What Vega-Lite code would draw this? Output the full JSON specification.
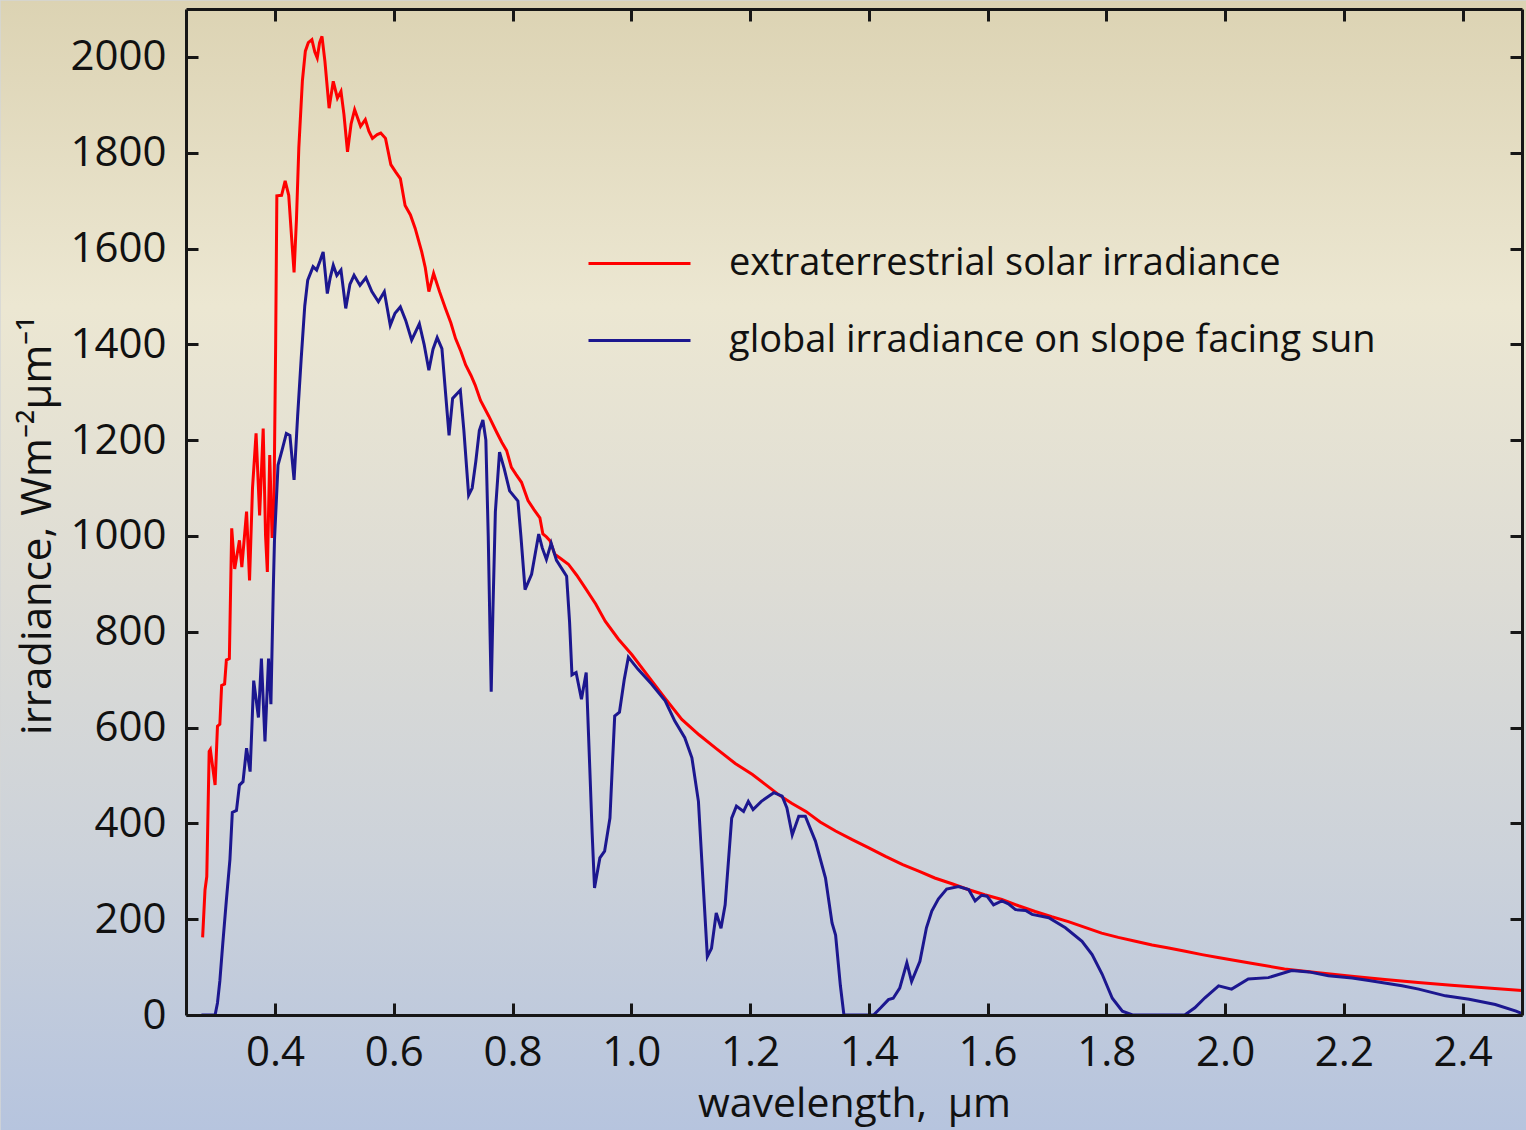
{
  "$schema": "https://vega.github.io/schema/vega-lite/v6.json",
  "width": 1336,
  "height": 1006,
  "padding": 0,
  "autosize": {"type": "pad"},
  "background": "#d4d6d6",
  "config": {
    "view": {"stroke": null},
    "font": "Open Sans",
    "axis": {
      "grid": false,
      "domainColor": "#161616",
      "domainWidth": 3,
      "tickColor": "#161616",
      "tickWidth": 3,
      "tickSize": -12,
      "labelFont": "Open Sans",
      "labelFontSize": 42,
      "labelColor": "#111111",
      "labelPadding": 30,
      "titleFont": "Open Sans",
      "titleFontSize": 42,
      "titleFontWeight": "normal",
      "titleColor": "#111111"
    }
  },
  "resolve": {"axis": {"x": "independent", "y": "independent"}},
  "layer": [
    {
      "data": {"values": [{}]},
      "mark": {
        "type": "rect",
        "clip": false,
        "fill": {
          "gradient": "linear",
          "x1": 0, "y1": 0, "x2": 0, "y2": 1,
          "stops": [
            {"offset": 0, "color": "#dcd3b3"},
            {"offset": 0.27, "color": "#ece7d2"},
            {"offset": 0.52, "color": "#dddcd5"},
            {"offset": 0.76, "color": "#ccd2da"},
            {"offset": 1, "color": "#b6c4de"}
          ]
        }
      },
      "encoding": {
        "x": {"datum": -0.062, "type": "quantitative", "scale": {"domain": [0.25, 2.5], "nice": false, "zero": false}, "axis": null},
        "x2": {"datum": 2.51},
        "y": {"datum": 2117, "type": "quantitative", "scale": {"domain": [0, 2100], "nice": false}, "axis": null},
        "y2": {"datum": -243}
      }
    },
    {
      "data": {"values": [
        {"series":"E","wl":0.278,"irr":162},{"series":"E","wl":0.282,"irr":261},{"series":"E","wl":0.285,"irr":289},{"series":"E","wl":0.289,"irr":550},{"series":"E","wl":0.291,"irr":554},{"series":"E","wl":0.299,"irr":480},{"series":"E","wl":0.303,"irr":603},{"series":"E","wl":0.307,"irr":607},{"series":"E","wl":0.310,"irr":688},{"series":"E","wl":0.315,"irr":691},{"series":"E","wl":0.318,"irr":741},{"series":"E","wl":0.323,"irr":744},{"series":"E","wl":0.327,"irr":1016},{"series":"E","wl":0.332,"irr":931},{"series":"E","wl":0.340,"irr":991},{"series":"E","wl":0.344,"irr":935},{"series":"E","wl":0.352,"irr":1051},{"series":"E","wl":0.357,"irr":907},{"series":"E","wl":0.362,"irr":1100},{"series":"E","wl":0.368,"irr":1214},{"series":"E","wl":0.374,"irr":1043},{"series":"E","wl":0.380,"irr":1224},{"series":"E","wl":0.384,"irr":1000},{"series":"E","wl":0.387,"irr":925},{"series":"E","wl":0.391,"irr":1169},{"series":"E","wl":0.395,"irr":996},{"series":"E","wl":0.398,"irr":1050},{"series":"E","wl":0.401,"irr":1400},{"series":"E","wl":0.403,"irr":1710},{"series":"E","wl":0.411,"irr":1711},{"series":"E","wl":0.417,"irr":1741},{"series":"E","wl":0.423,"irr":1711},{"series":"E","wl":0.428,"irr":1620},{"series":"E","wl":0.432,"irr":1550},{"series":"E","wl":0.436,"irr":1660},{"series":"E","wl":0.440,"irr":1810},{"series":"E","wl":0.446,"irr":1950},{"series":"E","wl":0.451,"irr":2012},{"series":"E","wl":0.456,"irr":2030},{"series":"E","wl":0.462,"irr":2036},{"series":"E","wl":0.467,"irr":2010},{"series":"E","wl":0.471,"irr":1998},{"series":"E","wl":0.475,"irr":2030},{"series":"E","wl":0.479,"irr":2043},{"series":"E","wl":0.484,"irr":1990},{"series":"E","wl":0.491,"irr":1893},{"series":"E","wl":0.498,"irr":1949},{"series":"E","wl":0.505,"irr":1914},{"series":"E","wl":0.511,"irr":1928},{"series":"E","wl":0.516,"irr":1880},{"series":"E","wl":0.522,"irr":1802},{"series":"E","wl":0.528,"irr":1860},{"series":"E","wl":0.534,"irr":1890},{"series":"E","wl":0.544,"irr":1855},{"series":"E","wl":0.552,"irr":1869},{"series":"E","wl":0.558,"irr":1845},{"series":"E","wl":0.564,"irr":1830},{"series":"E","wl":0.572,"irr":1838},{"series":"E","wl":0.578,"irr":1841},{"series":"E","wl":0.586,"irr":1830},{"series":"E","wl":0.595,"irr":1775},{"series":"E","wl":0.603,"irr":1760},{"series":"E","wl":0.611,"irr":1746},{"series":"E","wl":0.619,"irr":1690},{"series":"E","wl":0.628,"irr":1670},{"series":"E","wl":0.636,"irr":1642},{"series":"E","wl":0.647,"irr":1593},{"series":"E","wl":0.653,"irr":1560},{"series":"E","wl":0.659,"irr":1510},{"series":"E","wl":0.667,"irr":1548},{"series":"E","wl":0.677,"irr":1510},{"series":"E","wl":0.687,"irr":1475},{"series":"E","wl":0.696,"irr":1445},{"series":"E","wl":0.704,"irr":1412},{"series":"E","wl":0.713,"irr":1385},{"series":"E","wl":0.721,"irr":1357},{"series":"E","wl":0.730,"irr":1335},{"series":"E","wl":0.737,"irr":1315},{"series":"E","wl":0.746,"irr":1283},{"series":"E","wl":0.760,"irr":1250},{"series":"E","wl":0.773,"irr":1217},{"series":"E","wl":0.782,"irr":1195},{"series":"E","wl":0.790,"irr":1178},{"series":"E","wl":0.798,"irr":1143},{"series":"E","wl":0.806,"irr":1128},{"series":"E","wl":0.815,"irr":1112},{"series":"E","wl":0.826,"irr":1074},{"series":"E","wl":0.836,"irr":1055},{"series":"E","wl":0.846,"irr":1038},{"series":"E","wl":0.851,"irr":1004},{"series":"E","wl":0.857,"irr":998},{"series":"E","wl":0.863,"irr":990},{"series":"E","wl":0.871,"irr":962},{"series":"E","wl":0.882,"irr":952},{"series":"E","wl":0.894,"irr":941},{"series":"E","wl":0.908,"irr":918},{"series":"E","wl":0.922,"irr":892},{"series":"E","wl":0.940,"irr":858},{"series":"E","wl":0.956,"irr":822},{"series":"E","wl":0.978,"irr":785},{"series":"E","wl":1.001,"irr":752},{"series":"E","wl":1.028,"irr":708},{"series":"E","wl":1.057,"irr":661},{"series":"E","wl":1.085,"irr":617},{"series":"E","wl":1.114,"irr":585},{"series":"E","wl":1.142,"irr":557},{"series":"E","wl":1.175,"irr":525},{"series":"E","wl":1.204,"irr":502},{"series":"E","wl":1.225,"irr":482},{"series":"E","wl":1.248,"irr":460},{"series":"E","wl":1.270,"irr":442},{"series":"E","wl":1.294,"irr":425},{"series":"E","wl":1.318,"irr":403},{"series":"E","wl":1.344,"irr":384},{"series":"E","wl":1.372,"irr":366},{"series":"E","wl":1.400,"irr":349},{"series":"E","wl":1.428,"irr":331},{"series":"E","wl":1.457,"irr":314},{"series":"E","wl":1.485,"irr":300},{"series":"E","wl":1.511,"irr":286},{"series":"E","wl":1.540,"irr":274},{"series":"E","wl":1.567,"irr":262},{"series":"E","wl":1.595,"irr":251},{"series":"E","wl":1.624,"irr":241},{"series":"E","wl":1.652,"irr":228},{"series":"E","wl":1.680,"irr":216},{"series":"E","wl":1.708,"irr":205},{"series":"E","wl":1.736,"irr":195},{"series":"E","wl":1.764,"irr":183},{"series":"E","wl":1.792,"irr":171},{"series":"E","wl":1.820,"irr":162},{"series":"E","wl":1.849,"irr":154},{"series":"E","wl":1.877,"irr":146},{"series":"E","wl":1.905,"irr":140},{"series":"E","wl":1.933,"irr":133},{"series":"E","wl":1.961,"irr":126},{"series":"E","wl":1.988,"irr":120},{"series":"E","wl":2.044,"irr":108},{"series":"E","wl":2.100,"irr":96},{"series":"E","wl":2.157,"irr":88},{"series":"E","wl":2.213,"irr":81},{"series":"E","wl":2.269,"irr":74},{"series":"E","wl":2.325,"irr":68},{"series":"E","wl":2.381,"irr":62},{"series":"E","wl":2.437,"irr":57},{"series":"E","wl":2.500,"irr":51},
        {"series":"G","wl":0.276,"irr":0},{"series":"G","wl":0.299,"irr":0},{"series":"G","wl":0.303,"irr":25},{"series":"G","wl":0.307,"irr":71},{"series":"G","wl":0.312,"irr":150},{"series":"G","wl":0.318,"irr":240},{"series":"G","wl":0.324,"irr":325},{"series":"G","wl":0.328,"irr":423},{"series":"G","wl":0.335,"irr":427},{"series":"G","wl":0.340,"irr":480},{"series":"G","wl":0.346,"irr":487},{"series":"G","wl":0.352,"irr":557},{"series":"G","wl":0.358,"irr":508},{"series":"G","wl":0.364,"irr":698},{"series":"G","wl":0.368,"irr":660},{"series":"G","wl":0.372,"irr":621},{"series":"G","wl":0.377,"irr":744},{"series":"G","wl":0.383,"irr":571},{"series":"G","wl":0.389,"irr":744},{"series":"G","wl":0.393,"irr":649},{"series":"G","wl":0.397,"irr":889},{"series":"G","wl":0.399,"irr":991},{"series":"G","wl":0.405,"irr":1148},{"series":"G","wl":0.412,"irr":1180},{"series":"G","wl":0.419,"irr":1214},{"series":"G","wl":0.425,"irr":1210},{"series":"G","wl":0.432,"irr":1117},{"series":"G","wl":0.438,"irr":1250},{"series":"G","wl":0.444,"irr":1370},{"series":"G","wl":0.450,"irr":1480},{"series":"G","wl":0.455,"irr":1534},{"series":"G","wl":0.464,"irr":1562},{"series":"G","wl":0.470,"irr":1555},{"series":"G","wl":0.476,"irr":1575},{"series":"G","wl":0.481,"irr":1593},{"series":"G","wl":0.488,"irr":1506},{"series":"G","wl":0.493,"irr":1540},{"series":"G","wl":0.498,"irr":1565},{"series":"G","wl":0.504,"irr":1544},{"series":"G","wl":0.511,"irr":1555},{"series":"G","wl":0.519,"irr":1475},{"series":"G","wl":0.526,"irr":1525},{"series":"G","wl":0.533,"irr":1544},{"series":"G","wl":0.543,"irr":1523},{"series":"G","wl":0.553,"irr":1539},{"series":"G","wl":0.563,"irr":1510},{"series":"G","wl":0.574,"irr":1489},{"series":"G","wl":0.584,"irr":1510},{"series":"G","wl":0.594,"irr":1440},{"series":"G","wl":0.602,"irr":1465},{"series":"G","wl":0.611,"irr":1478},{"series":"G","wl":0.620,"irr":1450},{"series":"G","wl":0.630,"irr":1409},{"series":"G","wl":0.643,"irr":1443},{"series":"G","wl":0.651,"irr":1400},{"series":"G","wl":0.659,"irr":1346},{"series":"G","wl":0.666,"irr":1390},{"series":"G","wl":0.673,"irr":1414},{"series":"G","wl":0.681,"irr":1391},{"series":"G","wl":0.687,"irr":1300},{"series":"G","wl":0.693,"irr":1210},{"series":"G","wl":0.699,"irr":1287},{"series":"G","wl":0.712,"irr":1304},{"series":"G","wl":0.718,"irr":1220},{"series":"G","wl":0.726,"irr":1085},{"series":"G","wl":0.732,"irr":1100},{"series":"G","wl":0.738,"irr":1155},{"series":"G","wl":0.744,"irr":1220},{"series":"G","wl":0.750,"irr":1242},{"series":"G","wl":0.755,"irr":1200},{"series":"G","wl":0.759,"irr":1000},{"series":"G","wl":0.762,"irr":800},{"series":"G","wl":0.764,"irr":675},{"series":"G","wl":0.767,"irr":850},{"series":"G","wl":0.771,"irr":1050},{"series":"G","wl":0.778,"irr":1175},{"series":"G","wl":0.786,"irr":1140},{"series":"G","wl":0.795,"irr":1094},{"series":"G","wl":0.809,"irr":1073},{"series":"G","wl":0.814,"irr":1000},{"series":"G","wl":0.821,"irr":888},{"series":"G","wl":0.832,"irr":920},{"series":"G","wl":0.844,"irr":1004},{"series":"G","wl":0.850,"irr":975},{"series":"G","wl":0.857,"irr":951},{"series":"G","wl":0.865,"irr":985},{"series":"G","wl":0.874,"irr":949},{"series":"G","wl":0.891,"irr":916},{"series":"G","wl":0.896,"irr":820},{"series":"G","wl":0.900,"irr":710},{"series":"G","wl":0.907,"irr":715},{"series":"G","wl":0.916,"irr":659},{"series":"G","wl":0.924,"irr":715},{"series":"G","wl":0.930,"irr":516},{"series":"G","wl":0.934,"irr":380},{"series":"G","wl":0.938,"irr":265},{"series":"G","wl":0.947,"irr":328},{"series":"G","wl":0.955,"irr":342},{"series":"G","wl":0.964,"irr":411},{"series":"G","wl":0.968,"irr":520},{"series":"G","wl":0.972,"irr":624},{"series":"G","wl":0.980,"irr":632},{"series":"G","wl":0.988,"irr":700},{"series":"G","wl":0.995,"irr":747},{"series":"G","wl":1.011,"irr":722},{"series":"G","wl":1.034,"irr":691},{"series":"G","wl":1.057,"irr":656},{"series":"G","wl":1.073,"irr":614},{"series":"G","wl":1.090,"irr":579},{"series":"G","wl":1.102,"irr":537},{"series":"G","wl":1.113,"irr":446},{"series":"G","wl":1.121,"irr":272},{"series":"G","wl":1.128,"irr":122},{"series":"G","wl":1.135,"irr":139},{"series":"G","wl":1.143,"irr":213},{"series":"G","wl":1.151,"irr":181},{"series":"G","wl":1.158,"irr":230},{"series":"G","wl":1.169,"irr":411},{"series":"G","wl":1.177,"irr":436},{"series":"G","wl":1.189,"irr":425},{"series":"G","wl":1.197,"irr":446},{"series":"G","wl":1.205,"irr":429},{"series":"G","wl":1.219,"irr":446},{"series":"G","wl":1.240,"irr":464},{"series":"G","wl":1.254,"irr":457},{"series":"G","wl":1.262,"irr":432},{"series":"G","wl":1.271,"irr":376},{"series":"G","wl":1.282,"irr":415},{"series":"G","wl":1.293,"irr":415},{"series":"G","wl":1.310,"irr":363},{"series":"G","wl":1.327,"irr":286},{"series":"G","wl":1.338,"irr":192},{"series":"G","wl":1.344,"irr":167},{"series":"G","wl":1.352,"irr":62},{"series":"G","wl":1.358,"irr":0},{"series":"G","wl":1.408,"irr":0},{"series":"G","wl":1.420,"irr":15},{"series":"G","wl":1.433,"irr":32},{"series":"G","wl":1.441,"irr":35},{"series":"G","wl":1.452,"irr":56},{"series":"G","wl":1.464,"irr":109},{"series":"G","wl":1.472,"irr":70},{"series":"G","wl":1.486,"irr":112},{"series":"G","wl":1.497,"irr":182},{"series":"G","wl":1.506,"irr":217},{"series":"G","wl":1.517,"irr":242},{"series":"G","wl":1.531,"irr":263},{"series":"G","wl":1.551,"irr":268},{"series":"G","wl":1.568,"irr":262},{"series":"G","wl":1.579,"irr":238},{"series":"G","wl":1.590,"irr":250},{"series":"G","wl":1.599,"irr":248},{"series":"G","wl":1.610,"irr":230},{"series":"G","wl":1.624,"irr":238},{"series":"G","wl":1.635,"irr":232},{"series":"G","wl":1.647,"irr":220},{"series":"G","wl":1.664,"irr":218},{"series":"G","wl":1.675,"irr":210},{"series":"G","wl":1.703,"irr":203},{"series":"G","wl":1.731,"irr":182},{"series":"G","wl":1.759,"irr":154},{"series":"G","wl":1.776,"irr":126},{"series":"G","wl":1.793,"irr":85},{"series":"G","wl":1.810,"irr":35},{"series":"G","wl":1.827,"irr":8},{"series":"G","wl":1.844,"irr":0},{"series":"G","wl":1.932,"irr":0},{"series":"G","wl":1.949,"irr":15},{"series":"G","wl":1.966,"irr":36},{"series":"G","wl":1.989,"irr":61},{"series":"G","wl":2.011,"irr":54},{"series":"G","wl":2.039,"irr":75},{"series":"G","wl":2.073,"irr":78},{"series":"G","wl":2.112,"irr":93},{"series":"G","wl":2.141,"irr":90},{"series":"G","wl":2.174,"irr":82},{"series":"G","wl":2.214,"irr":77},{"series":"G","wl":2.242,"irr":72},{"series":"G","wl":2.298,"irr":61},{"series":"G","wl":2.326,"irr":54},{"series":"G","wl":2.371,"irr":40},{"series":"G","wl":2.411,"irr":33},{"series":"G","wl":2.455,"irr":22},{"series":"G","wl":2.490,"irr":8},{"series":"G","wl":2.500,"irr":3}
      ]},
      "mark": {"type": "line", "strokeWidth": 3, "clip": true},
      "encoding": {
        "x": {
          "field": "wl", "type": "quantitative",
          "scale": {"domain": [0.25, 2.5], "nice": false, "zero": false},
          "axis": {"orient": "bottom", "zindex": 1, "values": [0.4,0.6,0.8,1.0,1.2,1.4,1.6,1.8,2.0,2.2,2.4], "format": ".1f", "title": "wavelength,\u2002µm", "titlePadding": 11, "titleFontSize": 41, "labelPadding": 29, "labelFlush": false}
        },
        "y": {
          "field": "irr", "type": "quantitative",
          "scale": {"domain": [0, 2100], "nice": false},
          "axis": {"orient": "left", "zindex": 1, "values": [0,200,400,600,800,1000,1200,1400,1600,1800,2000], "format": "d", "title": "irradiance, Wm⁻²µm⁻¹", "titlePadding": 10, "labelPadding": 32, "titleY": 516}
        },
        "color": {
          "field": "series", "type": "nominal",
          "scale": {"domain": ["E", "G"], "range": ["#ff0000", "#1c178f"]},
          "legend": {
            "orient": "none",
            "legendX": 401,
            "legendY": 202,
            "title": null,
            "symbolType": "stroke",
            "symbolSize": 10404,
            "symbolStrokeWidth": 3,
            "labelFont": "Open Sans",
            "labelFontSize": 38,
            "labelColor": "#111111",
            "labelOffset": 37,
            "labelLimit": 1000,
            "rowPadding": 5,
            "zindex": 2,
            "labelExpr": "datum.value == 'E' ? 'extraterrestrial solar irradiance' : 'global irradiance on slope facing sun'"
          }
        }
      }
    },
    {
      "data": {"values": [{}]},
      "mark": {"type": "point", "opacity": 0},
      "encoding": {
        "x": {"datum": 1, "type": "quantitative", "scale": {"domain": [0.25, 2.5], "nice": false, "zero": false},
              "axis": {"orient": "top", "zindex": 1, "values": [0.4,0.6,0.8,1.0,1.2,1.4,1.6,1.8,2.0,2.2,2.4], "labels": false, "title": null}},
        "y": {"datum": 1000, "type": "quantitative", "scale": {"domain": [0, 2100], "nice": false},
              "axis": {"orient": "right", "zindex": 1, "values": [0,200,400,600,800,1000,1200,1400,1600,1800,2000], "labels": false, "title": null}}
      }
    }
  ]
}
